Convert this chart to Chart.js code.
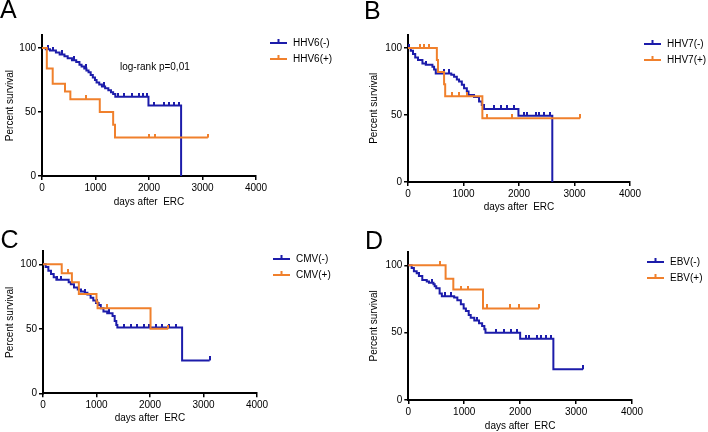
<!DOCTYPE html>
<html lang="en">
<head>
<meta charset="UTF-8">
<title>Survival after ERC by virus status</title>
<script src="https://cdn.jsdelivr.net/npm/chart.js"></script>
<style>
    html, body {
        margin: 0;
        padding: 0;
        background: #fff;
    }
    #wrap {
        position: relative;
        width: 708px;
        height: 432px;
        overflow: hidden;
    }
    canvas {
        position: absolute;
    }
</style>
</head>
<body>
<div id="wrap">
    <canvas id="chartA" width="354" height="216" style="left:0;top:0"></canvas>
    <canvas id="chartB" width="354" height="216" style="left:354px;top:0"></canvas>
    <canvas id="chartC" width="354" height="216" style="left:0;top:216px"></canvas>
    <canvas id="chartD" width="354" height="216" style="left:354px;top:216px"></canvas>
</div>

<script>
    // axis ticks shared by all four panels
    const xTicks = [0, 1000, 2000, 3000, 4000];
    const yTicks = [0, 50, 100];

    // Kaplan-Meier steps as [days, percent surviving after the event]
    // censored times are listed separately, their height is read off the curve

    // A: HHV6
    const hhv6NegSteps = [[0,100],[70,99],[150,98],[260,96.5],[330,95],[420,93.5],[480,92],[560,90.5],[640,89],[700,87],[740,85.5],[790,84],[830,82.5],[870,81],[910,79],[950,77],[990,75],[1020,73],[1070,71.5],[1120,70],[1180,68.5],[1240,67],[1290,65.5],[1330,64],[1370,62],[1990,55],[2600,0]];
    const hhv6NegCensored = [120, 210, 380, 600, 820, 1150, 1420, 1530, 1690, 1810, 1880, 1960, 2100, 2280, 2380, 2470, 2560];
    const hhv6PosSteps = [[0,100],[90,84],[200,72],[430,66],[530,60],[1080,50],[1330,40],[1365,30],[3100,30]];
    const hhv6PosCensored = [820, 2000, 2120, 3100];

    // B: HHV7
    const hhv7NegSteps = [[0,100],[50,98],[90,95.5],[130,93],[180,91],[260,88.5],[320,87.5],[440,86],[470,84],[500,81],[780,80],[830,78.5],[880,76.5],[920,75],[970,72.5],[1010,70],[1060,67.5],[1090,65],[1190,63.5],[1280,60],[1330,57.5],[1370,54.5],[1990,49.5],[2600,0]];
    const hhv7NegCensored = [20, 330, 650, 740, 1550, 1670, 1790, 1910, 2090, 2150, 2300, 2360, 2450, 2560];
    const hhv7PosSteps = [[0,100],[520,91],[540,82],[650,73],[670,64],[1340,47.5],[3100,47.5]];
    const hhv7PosCensored = [210, 290, 380, 800, 920, 1060, 1420, 1880, 3100];

    // C: CMV
    const cmvNegSteps = [[0,100],[50,98],[100,95],[150,92.5],[200,90],[250,88],[480,86],[520,84.5],[580,82],[650,80.5],[710,79],[780,78],[830,76.5],[890,74],[940,72],[990,70],[1040,68.5],[1080,66],[1130,63.5],[1200,62],[1300,60],[1340,56],[1370,53],[1390,51],[2600,25.5],[3115,25.5]];
    const cmvNegCensored = [270, 330, 790, 1000, 1230, 1510, 1640, 1760, 1890, 1980, 2110, 2230, 2350, 2480, 3115];
    const cmvPosSteps = [[0,100],[350,93],[540,86],[670,77],[1000,71],[1020,66],[2010,50],[2340,50]];
    const cmvPosCensored = [470, 1190, 2340];

    // D: EBV
    const ebvNegSteps = [[0,100],[60,98],[100,95.5],[150,94],[190,92],[250,89],[330,88],[370,87],[450,86],[472,84.5],[500,83],[560,79],[600,77],[820,76],[877,74],[940,71],[990,68],[1030,66],[1080,63],[1116,61],[1180,59],[1265,57],[1320,55],[1360,52.5],[1380,50],[2000,45.5],[2594,22.8],[3125,22.8]];
    const ebvNegCensored = [200, 420, 650, 760, 1230, 1563, 1712, 1832, 1951, 2100, 2159, 2308, 2368, 2457, 2547, 3125];
    const ebvPosSteps = [[0,100],[667,90],[805,82],[1336,68],[2338,68]];
    const ebvPosCensored = [567, 945, 1070, 1414, 1812, 1980, 2338];

    const BLUE = '#1c1caa';
    const ORANGE = '#f0802c';
    const FONT = '"Liberation Sans", Arial, Helvetica, sans-serif';

    // survival level at time t (last step at or before t)
    function levelAt(steps, t) {
        let y = steps[0][1];
        for (const s of steps) {
            if (s[0] <= t) y = s[1];
        }
        return y;
    }

    // small vertical censor mark sitting on top of the line
    function censorMark(color) {
        const c = document.createElement('canvas');
        c.width = 2;
        c.height = 8;
        const g = c.getContext('2d');
        g.fillStyle = color;
        g.fillRect(0, 0, 2, 4);
        return c;
    }

    const panelText = {
        id: 'panelText',
        afterDraw(chart, args, opts) {
            const ctx = chart.ctx;
            ctx.save();
            ctx.fillStyle = '#000';
            ctx.textBaseline = 'alphabetic';
            ctx.font = '25px ' + FONT;
            ctx.fillText(opts.letter, opts.letterX, opts.letterY);

            ctx.font = '10px ' + FONT;
            ctx.textBaseline = 'middle';
            opts.legend.forEach((item, i) => {
                const y = opts.legendY + i * opts.legendGap;
                ctx.strokeStyle = item.color;
                ctx.lineWidth = 2;
                ctx.beginPath();
                ctx.moveTo(opts.legendX, y);
                ctx.lineTo(opts.legendX + 17, y);
                ctx.stroke();
                ctx.fillStyle = item.color;
                ctx.fillRect(opts.legendX + 7.5, y - 4, 2, 4);
                ctx.fillStyle = '#000';
                ctx.fillText(item.label, opts.legendX + 23, y);
            });

            if (opts.note) {
                ctx.fillText(opts.note, opts.noteX, opts.noteY);
            }
            ctx.restore();
        }
    };

    function makePanel(id, g, neg, pos, labels, extra) {
        const toXY = steps => steps.map(s => ({x: s[0], y: s[1]}));
        const censorXY = (steps, times) => times.map(t => ({x: t, y: levelAt(steps, t)}));

        const datasets = [
            {
                label: labels[1],
                data: toXY(pos.steps),
                borderColor: ORANGE,
                borderWidth: 2,
                stepped: 'before',
                pointRadius: 0,
                fill: false
            },
            {
                label: labels[1] + ' censored',
                data: censorXY(pos.steps, pos.censored),
                showLine: false,
                pointStyle: censorMark(ORANGE),
                pointRadius: 3
            },
            {
                label: labels[0],
                data: toXY(neg.steps),
                borderColor: BLUE,
                borderWidth: 2,
                stepped: 'before',
                pointRadius: 0,
                fill: false
            },
            {
                label: labels[0] + ' censored',
                data: censorXY(neg.steps, neg.censored),
                showLine: false,
                pointStyle: censorMark(BLUE),
                pointRadius: 3
            }
        ];

        const axisBase = {
            border: {display: true, color: '#000', width: 2},
            grid: {
                drawOnChartArea: false,
                drawTicks: true,
                tickLength: 4,
                color: '#000',
                lineWidth: 1.5
            }
        };

        new Chart(document.getElementById(id), {
            type: 'line',
            data: {datasets: datasets},
            options: {
                responsive: false,
                animation: false,
                events: [],
                layout: {
                    padding: {left: g.padLeft, top: g.padTop, right: g.padRight, bottom: g.padBottom}
                },
                plugins: {
                    legend: {display: false},
                    tooltip: {enabled: false},
                    panelText: Object.assign({
                        legend: [
                            {label: labels[0], color: BLUE},
                            {label: labels[1], color: ORANGE}
                        ],
                        legendGap: 16
                    }, extra)
                },
                scales: {
                    x: Object.assign({}, axisBase, {
                        type: 'linear',
                        min: 0,
                        max: 4000,
                        afterBuildTicks: s => { s.ticks = xTicks.map(v => ({value: v})); },
                        afterFit: s => { s.height = g.xHeight; },
                        ticks: {
                            color: '#000',
                            padding: 2,
                            maxRotation: 0,
                            font: {family: FONT, size: 10},
                            callback: v => String(v)
                        },
                        title: {display: true, text: 'days after  ERC', color: '#000', padding: 0, font: {family: FONT, size: 10}}
                    }),
                    y: Object.assign({}, axisBase, {
                        type: 'linear',
                        min: 0,
                        max: 110,
                        afterBuildTicks: s => { s.ticks = yTicks.map(v => ({value: v})); },
                        afterFit: s => { s.width = g.yWidth; },
                        ticks: {color: '#000', padding: 2, font: {family: FONT, size: 10}, callback: v => String(v)},
                        title: {display: true, text: 'Percent survival', color: '#000', padding: 0, font: {family: FONT, size: 10}}
                    })
                }
            },
            plugins: [panelText]
        });
    }

    makePanel('chartA',
        {padLeft: 4, yWidth: 38, padTop: 35.2, padRight: 98, padBottom: 8, xHeight: 32},
        {steps: hhv6NegSteps, censored: hhv6NegCensored},
        {steps: hhv6PosSteps, censored: hhv6PosCensored},
        ['HHV6(-)', 'HHV6(+)'],
        {letter: 'A', letterX: 0, letterY: 18, legendX: 270, legendY: 43,
         note: 'log-rank p=0,01', noteX: 120, noteY: 67});

    makePanel('chartB',
        {padLeft: 14.7, yWidth: 39.3, padTop: 34.6, padRight: 78, padBottom: 2.7, xHeight: 31.3},
        {steps: hhv7NegSteps, censored: hhv7NegCensored},
        {steps: hhv7PosSteps, censored: hhv7PosCensored},
        ['HHV7(-)', 'HHV7(+)'],
        {letter: 'B', letterX: 10, letterY: 18.5, legendX: 290, legendY: 44});

    makePanel('chartC',
        {padLeft: 4, yWidth: 39, padTop: 35.4, padRight: 97, padBottom: 7.7, xHeight: 31},
        {steps: cmvNegSteps, censored: cmvNegCensored},
        {steps: cmvPosSteps, censored: cmvPosCensored},
        ['CMV(-)', 'CMV(+)'],
        {letter: 'C', letterX: 0.5, letterY: 31.5, legendX: 273, legendY: 43});

    makePanel('chartD',
        {padLeft: 14.7, yWidth: 39.6, padTop: 35.8, padRight: 76, padBottom: 0, xHeight: 32},
        {steps: ebvNegSteps, censored: ebvNegCensored},
        {steps: ebvPosSteps, censored: ebvPosCensored},
        ['EBV(-)', 'EBV(+)'],
        {letter: 'D', letterX: 11, letterY: 32.7, legendX: 293, legendY: 46});
</script>
</body>
</html>
